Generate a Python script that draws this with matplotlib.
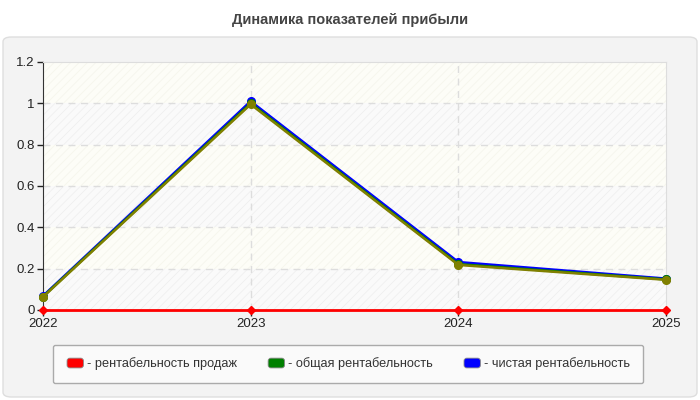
import matplotlib
matplotlib.use("Agg")
from matplotlib import pyplot as plt
from matplotlib.patches import FancyBboxPatch, Rectangle
from matplotlib.legend_handler import HandlerPatch
import numpy as np

years = [2022, 2023, 2024, 2025]
sales_profit = [0, 0, 0, 0]
total_profit = [0.065, 1.0, 0.222, 0.148]
net_profit = [0.068, 1.01, 0.232, 0.152]
extra_series = [0.063, 0.995, 0.218, 0.146]
labels = ["- рентабельность продаж", "- общая рентабельность", "- чистая рентабельность"]
yticks = [0, 0.2, 0.4, 0.6, 0.8, 1, 1.2]
ytick_labels = ["0", "0.2", "0.4", "0.6", "0.8", "1", "1.2"]

plt.rcParams['font.family'] = ['Liberation Sans', 'DejaVu Sans']
plt.rcParams['hatch.linewidth'] = 0.6

fig = plt.figure(figsize=(7, 4), dpi=100)
fig.patch.set_facecolor('white')

# outer panel
panel = FancyBboxPatch((3/700, 3/400), 694/700, 360/400,
                       boxstyle="round,pad=0,rounding_size=0.012",
                       transform=fig.transFigure, facecolor='#f3f3f3',
                       edgecolor='#dedede', linewidth=1, zorder=-5)
fig.patches.append(panel)

fig.text(0.5, 1 - 20/400, "Динамика показателей прибыли", ha='center', va='center',
         fontsize=10.5, fontweight='bold', color='#444444')

ax = fig.add_axes([43/700, 1 - 310/400, 623/700, 248/400])
ax.set_facecolor('#fdfdf7')
ax.set_xlim(2022, 2025)
ax.set_ylim(0, 1.2)

# alternating bands
for i in range(len(yticks) - 1):
    if i % 2 == 0:
        ax.add_patch(Rectangle((2022, yticks[i]), 3, yticks[i + 1] - yticks[i],
                               facecolor='#fafafa', edgecolor='#efefef', hatch='////',
                               linewidth=0, zorder=0))
    else:
        ax.add_patch(Rectangle((2022, yticks[i]), 3, yticks[i + 1] - yticks[i],
                               facecolor='#fdfdf7', edgecolor='#f6f6ec', hatch='////',
                               linewidth=0, zorder=0))

for y in yticks[1:-1]:
    ax.axhline(y, color='#dddddd', linestyle=(0, (5, 4)), linewidth=1, zorder=1)
for x in years[1:-1]:
    ax.axvline(x, color='#dddddd', linestyle=(0, (5, 4)), linewidth=1, zorder=1)

ax.plot(years, sales_profit, color='#ff0000', linewidth=2, marker='D', markersize=4.5,
        clip_on=False, zorder=5)
ax.plot(years, net_profit, color='#0000ff', linewidth=1.8, marker='o', markersize=5.5,
        clip_on=False, zorder=3)
ax.plot(years, total_profit, color='#008000', linewidth=1.8, marker='o', markersize=5.5,
        clip_on=False, zorder=3.5)
ax.plot(years, extra_series, color='#808000', linewidth=1.8, marker='o', markersize=5.5,
        clip_on=False, zorder=4)

ax.set_xticks(years)
ax.set_xticklabels([str(y) for y in years])
ax.set_yticks(yticks)
ax.set_yticklabels(ytick_labels)
ax.tick_params(axis='both', labelsize=9.5, colors='#222222', length=4, width=1)
ax.tick_params(axis='x', pad=2)
ax.tick_params(axis='y', pad=2)

for side in ['top', 'right']:
    ax.spines[side].set_color('#dddddd')
ax.spines['left'].set_color('#333333')
ax.spines['bottom'].set_color('#333333')


class RoundHandler(HandlerPatch):
    def create_artists(self, legend, orig_handle, xdescent, ydescent, width, height, fontsize, trans):
        p = FancyBboxPatch((-xdescent + 1, -ydescent), width - 2, height,
                           boxstyle="round,pad=0,rounding_size=2",
                           facecolor=orig_handle.get_facecolor(), edgecolor='#888888',
                           linewidth=0.6, transform=trans)
        return [p]


handles = [Rectangle((0, 0), 1, 1, facecolor=c) for c in ['#ff0000', '#008000', '#0000ff']]
leg = fig.legend(handles, labels, loc='center', bbox_to_anchor=(348/700, 1 - 364/400),
                 ncol=3, fontsize=9.2, frameon=True, fancybox=True, handlelength=1.5,
                 handleheight=0.8, handletextpad=0.2, columnspacing=2.3,
                 borderpad=1.0, handler_map={Rectangle: RoundHandler()})
leg.get_frame().set_facecolor('#fafafa')
leg.get_frame().set_edgecolor('#aaaaaa')
leg.get_frame().set_alpha(1)
for t in leg.get_texts():
    t.set_color('#333333')

fig.savefig('out.png', dpi=100)
